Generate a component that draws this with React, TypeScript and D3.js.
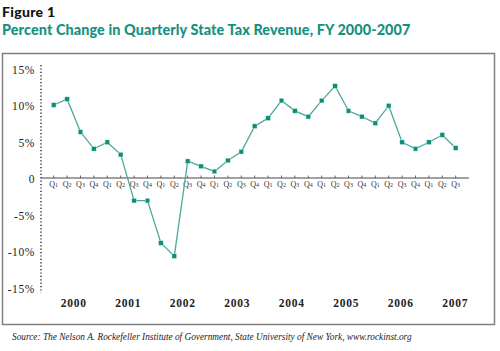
import { useRef, useEffect } from "react";
import * as d3 from "d3";

const years = ["2000", "2001", "2002", "2003", "2004", "2005", "2006", "2007"];
const quarterNames = ["1", "2", "3", "4"];
// percent change, FY2000 Q1 .. FY2007 Q3
const revenueChange = [
  10.0, 10.8, 6.3, 4.0, 4.9, 3.2, -3.1, -3.1, -8.9, -10.7, 2.3, 1.6, 0.9, 2.4,
  3.6, 7.1, 8.2, 10.6, 9.2, 8.4, 10.6, 12.6, 9.2, 8.4, 7.5, 9.9, 4.9, 4.0, 4.9,
  5.9, 4.1,
];
const yTicks = [15, 10, 5, 0, -5, -10, -15];

const TEAL = "#17917f";

export default function App() {
  const svgRef = useRef<SVGSVGElement>(null);

  useEffect(() => {
    if (!svgRef.current) return;
    const svg = d3.select(svgRef.current);
    svg.selectAll("*").remove();

    const width = 500;
    const height = 351;

    svg
      .append("rect")
      .attr("width", width)
      .attr("height", height)
      .attr("fill", "#ffffff");

    // Heading
    svg
      .append("text")
      .attr("x", 2)
      .attr("y", 17)
      .attr("font-family", "Lato, 'DejaVu Sans', sans-serif")
      .attr("font-weight", "900")
      .attr("font-size", "14px")
      .attr("letter-spacing", "0.3px")
      .attr("fill", "#111")
      .text("Figure 1");

    svg
      .append("text")
      .attr("x", 2)
      .attr("y", 35)
      .attr("font-family", "Lato, 'DejaVu Sans', sans-serif")
      .attr("font-weight", "900")
      .attr("font-size", "14.4px")
      .attr("letter-spacing", "0.1px")
      .attr("fill", TEAL)
      .text("Percent Change in Quarterly State Tax Revenue, FY 2000-2007");

    // Frame
    svg
      .append("rect")
      .attr("x", 2.5)
      .attr("y", 53.5)
      .attr("width", 492)
      .attr("height", 271)
      .attr("fill", "none")
      .attr("stroke", "#7f7f7f")
      .attr("stroke-width", 1.5);

    const x = d3
      .scaleLinear()
      .domain([0, revenueChange.length - 1])
      .range([53.7, 455.7]);
    const y = d3.scaleLinear().domain([-15, 15]).range([287.5, 68.5]);

    // Dotted y axis
    svg
      .append("line")
      .attr("x1", 41)
      .attr("x2", 41)
      .attr("y1", 65)
      .attr("y2", 293)
      .attr("stroke", "#111")
      .attr("stroke-width", 1.3)
      .attr("stroke-dasharray", "1.2,2.2");

    svg
      .append("g")
      .selectAll("text")
      .data(yTicks)
      .join("text")
      .attr("x", 35)
      .attr("y", (d) => y(d) + 5)
      .attr("text-anchor", "end")
      .attr("font-family", "'Liberation Serif', serif")
      .attr("font-size", "11.5px")
      .attr("letter-spacing", "0.6px")
      .attr("fill", "#222")
      .text((d) => (d === 0 ? "0" : `${d}%`));

    // Zero axis
    svg
      .append("line")
      .attr("x1", 41)
      .attr("x2", 469)
      .attr("y1", y(0))
      .attr("y2", y(0))
      .attr("stroke", "#444")
      .attr("stroke-width", 1);

    const qg = svg
      .append("g")
      .selectAll("g")
      .data(revenueChange)
      .join("g")
      .attr("transform", (_, i) => `translate(${x(i)},${y(0)})`);

    qg.append("line")
      .attr("y1", 0)
      .attr("y2", -2.5)
      .attr("stroke", "#444")
      .attr("stroke-width", 0.8);

    const ql = qg
      .append("text")
      .attr("y", 8.5)
      .attr("text-anchor", "middle")
      .attr("font-family", "'Liberation Serif', serif")
      .attr("font-size", "8px")
      .attr("fill", "#333");
    ql.append("tspan").text("Q");
    ql.append("tspan")
      .attr("font-size", "6px")
      .attr("dy", 0.8)
      .text((_, i) => quarterNames[i % 4]);

    // Year labels
    svg
      .append("g")
      .selectAll("text")
      .data(years)
      .join("text")
      .attr("x", (_, i) => x(i * 4 + 1.5) + i * 0.9)
      .attr("y", 307)
      .attr("text-anchor", "middle")
      .attr("font-family", "'Liberation Serif', serif")
      .attr("font-weight", "bold")
      .attr("font-size", "11.5px")
      .attr("letter-spacing", "0.8px")
      .attr("fill", "#222")
      .text((d) => d);

    // Series
    const line = d3
      .line<number>()
      .x((_, i) => x(i))
      .y((d) => y(d));

    svg
      .append("path")
      .datum(revenueChange)
      .attr("d", line)
      .attr("fill", "none")
      .attr("stroke", "#4aa99b")
      .attr("stroke-width", 1.3);

    svg
      .append("g")
      .selectAll("rect")
      .data(revenueChange)
      .join("rect")
      .attr("x", (_, i) => x(i) - 2.3)
      .attr("y", (d) => y(d) - 2.3)
      .attr("width", 4.6)
      .attr("height", 4.6)
      .attr("fill", "#0a8f78")
      .attr("stroke", "#dff0ec")
      .attr("stroke-width", 0.4);

    // Source
    svg
      .append("text")
      .attr("x", 12)
      .attr("y", 340)
      .attr("font-family", "'Liberation Serif', serif")
      .attr("font-style", "italic")
      .attr("font-size", "9.3px")
      .attr("fill", "#222")
      .text(
        "Source: The Nelson A. Rockefeller Institute of Government, State University of New York, www.rockinst.org"
      );
  }, []);

  return (
    <div style={{ position: "absolute", left: 0, top: 0 }}>
      <svg ref={svgRef} width={500} height={351} style={{ display: "block" }} />
    </div>
  );
}
